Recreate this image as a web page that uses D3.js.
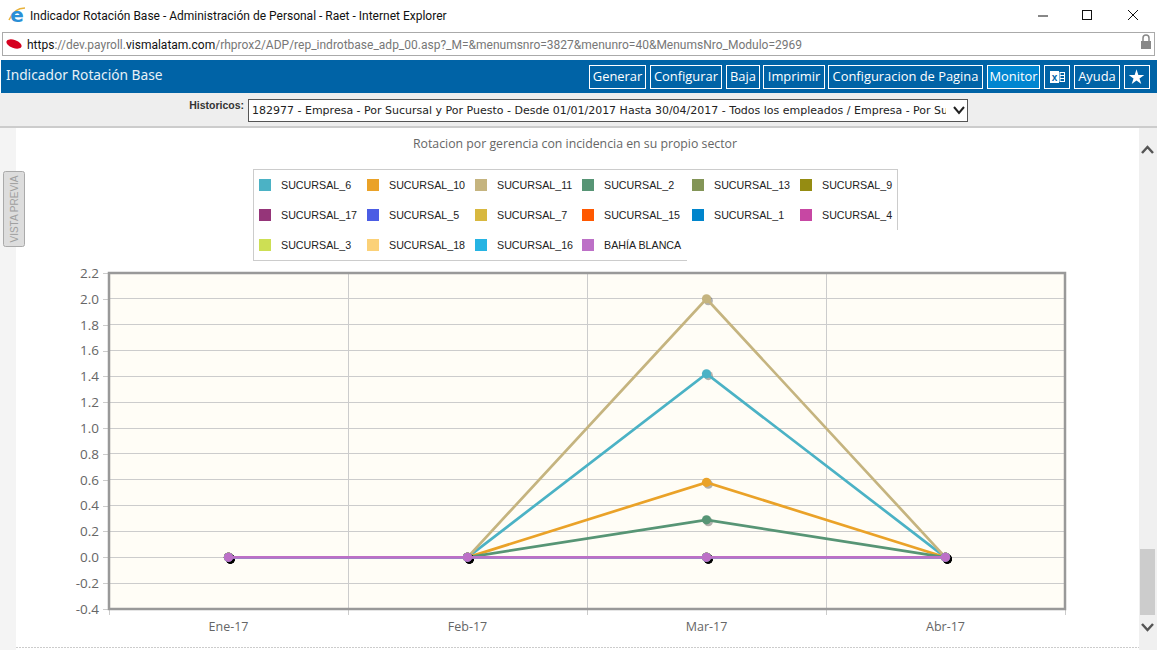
<!DOCTYPE html>
<html>
<head>
<meta charset="utf-8">
<script src="https://cdn.jsdelivr.net/npm/d3@7"></script>
<style>
body { margin: 0; background: #fff; overflow: hidden; }
svg { display: block; }
</style>
</head>
<body>
<svg id="page" width="1157" height="650"></svg>
<script>
var categories = ["Ene-17", "Feb-17", "Mar-17", "Abr-17"];
var seriesNames = ["SUCURSAL_6", "SUCURSAL_10", "SUCURSAL_11", "SUCURSAL_2", "SUCURSAL_13", "SUCURSAL_9",
    "SUCURSAL_17", "SUCURSAL_5", "SUCURSAL_7", "SUCURSAL_15", "SUCURSAL_1", "SUCURSAL_4",
    "SUCURSAL_3", "SUCURSAL_18", "SUCURSAL_16", "BAHÍA BLANCA"];
var seriesColors = ["#4bb2c5", "#eaa228", "#c5b47f", "#579575", "#839557", "#958c12",
    "#953579", "#4b5de4", "#d8b83f", "#ff5800", "#0085cc", "#c747a3",
    "#cddf54", "#fbd178", "#26b4e3", "#bd70c7"];
var seriesValues = [
    [0, 0, 1.42, 0],
    [0, 0, 0.58, 0],
    [0, 0, 2.0, 0],
    [0, 0, 0.29, 0],
    [0, 0, 0, 0],
    [0, 0, 0, 0],
    [0, 0, 0, 0],
    [0, 0, 0, 0],
    [0, 0, 0, 0],
    [0, 0, 0, 0],
    [0, 0, 0, 0],
    [0, 0, 0, 0],
    [0, 0, 0, 0],
    [0, 0, 0, 0],
    [0, 0, 0, 0],
    [0, 0, 0, 0]
];
var yTicks = [-0.4, -0.2, 0, 0.2, 0.4, 0.6, 0.8, 1.0, 1.2, 1.4, 1.6, 1.8, 2.0, 2.2];
var toolbarButtons = [
    {label: "Generar", x0: 589, x1: 645},
    {label: "Configurar", x0: 650, x1: 721},
    {label: "Baja", x0: 726, x1: 759},
    {label: "Imprimir", x0: 763, x1: 824},
    {label: "Configuracion de Pagina", x0: 828, x1: 982},
    {label: "Monitor", x0: 987, x1: 1039, on: true},
    {label: "", x0: 1044, x1: 1069},
    {label: "Ayuda", x0: 1074, x1: 1119},
    {label: "", x0: 1124, x1: 1149}
];
var legendX = [259, 367, 475, 582, 692, 800];
var legendY = [185, 215, 245];

var svg = d3.select("#page");
var uiFont = "Roboto, 'Noto Sans', sans-serif";
var chartFont = "'Open Sans', 'Noto Sans', sans-serif";
var monoFont = "'DejaVu Sans', sans-serif";

var addRect = function(x, y, w, h, fill, stroke)
{
    return svg.append("rect")
    .attr("x", x).attr("y", y).attr("width", w).attr("height", h)
    .attr("fill", fill)
    .attr("stroke", stroke || "none");
}

var addText = function(x, y, str, size, color, family, anchor)
{
    return svg.append("text")
    .attr("x", x).attr("y", y)
    .attr("font-size", size)
    .attr("font-family", family)
    .attr("fill", color)
    .attr("text-anchor", anchor || "start")
    .text(str);
}

var addLine = function(x1, y1, x2, y2, color, width)
{
    return svg.append("line")
    .attr("x1", x1).attr("y1", y1).attr("x2", x2).attr("y2", y2)
    .attr("stroke", color)
    .attr("stroke-width", width || 1);
}

var drawWindow = function()
{
    // title bar
    svg.append("path").attr("d", "M9 20 Q14 8 25 8").attr("fill", "none")
    .attr("stroke", "#e8b23a").attr("stroke-width", 1.5);
    addText(17, 22, "e", 20, "#2a8fd6", "'DejaVu Sans', sans-serif", "middle").attr("font-weight", "bold");
    addText(30, 20, "Indicador Rotación Base - Administración de Personal - Raet - Internet Explorer", 12, "#111", uiFont);
    addLine(1038, 16, 1048, 16, "#111");
    addRect(1082.5, 10.5, 9, 9, "none", "#111");
    addLine(1128, 10, 1138, 20, "#111");
    addLine(1138, 10, 1128, 20, "#111");

    // address bar
    addRect(2.5, 32.5, 1152, 23, "#fff", "#aaa");
    svg.append("ellipse").attr("cx", 14).attr("cy", 44).attr("rx", 8).attr("ry", 4)
    .attr("fill", "#d5001f").attr("transform", "rotate(20 14 44)");
    var url = addText(27, 49, null, 12, "#777", uiFont);
    url.append("tspan").attr("fill", "#111").text("https");
    url.append("tspan").text("://dev.payroll.");
    url.append("tspan").attr("fill", "#111").text("vismalatam.com");
    url.append("tspan").text("/rhprox2/ADP/rep_indrotbase_adp_00.asp?_M=&menumsnro=3827&menunro=40&MenumsNro_Modulo=2969");
    addRect(1141, 41, 10, 8, "#888");
    svg.append("path").attr("d", "M1143 41 V38 a3 3 0 0 1 6 0 V41").attr("fill", "none").attr("stroke", "#888").attr("stroke-width", 1.5);

    // blue header
    addRect(1, 60, 1156, 33, "#0063a6");
    addText(6, 80, "Indicador Rotación Base", 13.75, "#e8f1f7", "'Noto Sans', sans-serif");

    svg.append("g").selectAll("rect")
    .data(toolbarButtons)
    .enter()
    .append("rect")
    .attr("x", function(d){return d.x0 + 0.5;})
    .attr("y", 65.5)
    .attr("width", function(d){return d.x1 - d.x0;})
    .attr("height", 23)
    .attr("fill", function(d){return d.on ? "#0085d0" : "#0063a6";})
    .attr("stroke", "#fff");

    svg.append("g").selectAll("text")
    .data(toolbarButtons)
    .enter()
    .append("text")
    .attr("x", function(d){return (d.x0 + d.x1) / 2 + 0.5;})
    .attr("y", 81)
    .attr("text-anchor", "middle")
    .attr("font-size", 12.9)
    .attr("font-family", chartFont)
    .attr("fill", "#fff")
    .text(function(d){return d.label;});

    // excel and star icons
    addRect(1050, 71, 9, 12, "#fff");
    addText(1054.5, 80.5, "x", 10, "#0063a6", "'Liberation Sans', sans-serif", "middle").attr("font-weight", "bold");
    addRect(1060, 72.5, 4.5, 9, "none", "#fff");
    addLine(1060, 75.5, 1064.5, 75.5, "#fff");
    addLine(1060, 78.5, 1064.5, 78.5, "#fff");
    var star = d3.symbol().type(d3.symbolStar).size(75);
    svg.append("path").attr("d", star()).attr("fill", "#fff").attr("transform", "translate(1136.5,77.5)");

    // historicos bar
    addRect(0, 93, 1157, 33, "#eee");
    addRect(0, 126, 1157, 2, "#ccc");
    addText(244, 109, "Historicos:", 10.5, "#333", "'Liberation Sans', sans-serif", "end").attr("font-weight", "bold");
    addRect(248.5, 99.5, 719, 22, "#fff", "#555");
    svg.append("clipPath").attr("id", "selClip").append("rect")
    .attr("x", 250).attr("y", 100).attr("width", 696).attr("height", 21);
    addText(252, 114, "182977 - Empresa - Por Sucursal y Por Puesto - Desde 01/01/2017 Hasta 30/04/2017 - Todos los empleados / Empresa - Por Sucursal", 11, "#222", monoFont)
    .attr("clip-path", "url(#selClip)");
    svg.append("path").attr("d", "M954 107 L959 113 L964 107").attr("fill", "none").attr("stroke", "#222").attr("stroke-width", 2);

    // side strips and scrollbar
    addRect(0, 128, 16, 522, "#f4f4f4");
    addRect(1139, 128, 18, 522, "#f0f0f0");
    addRect(1140, 549, 15, 66, "#ccc");
    svg.append("path").attr("d", "M1142 153 L1147.5 147 L1153 153").attr("fill", "none").attr("stroke", "#555").attr("stroke-width", 2.5);
    svg.append("path").attr("d", "M1142 624 L1147.5 630 L1153 624").attr("fill", "none").attr("stroke", "#555").attr("stroke-width", 2.5);
    addLine(16, 647.5, 1139, 647.5, "#ccc").attr("stroke-dasharray", "2,1");

    // vista previa tab
    svg.append("rect").attr("x", 3.5).attr("y", 171.5).attr("width", 21).attr("height", 75).attr("rx", 2)
    .attr("fill", "#ddd").attr("stroke", "#aaa");
    addText(0, 0, "VISTA PREVIA", 10, "#a0a0a0", "'Liberation Sans', sans-serif", "middle")
    .attr("transform", "translate(18,209) rotate(-90)");
}

var drawLegend = function()
{
    addLine(253.5, 169.5, 898, 169.5, "#ccc");
    addLine(253.5, 169, 253.5, 261, "#ccc");
    addLine(897.5, 169, 897.5, 230, "#ccc");
    addLine(253, 260.5, 687, 260.5, "#ccc");

    var items = svg.append("g").selectAll("g")
    .data(seriesNames)
    .enter()
    .append("g")
    .attr("transform", function(d, i){
        return "translate(" + legendX[i % 6] + "," + legendY[Math.floor(i / 6)] + ")";
    });

    items.append("rect")
    .attr("x", 0).attr("y", -6)
    .attr("width", 12).attr("height", 12)
    .attr("fill", function(d, i){return seriesColors[i];});

    items.append("text")
    .attr("x", 22)
    .attr("y", 4)
    .attr("font-size", 10.7)
    .attr("font-family", "'Liberation Sans', sans-serif")
    .attr("fill", "#222")
    .text(function(d){return d;});
}

var drawChart = function()
{
    addText(575, 148, "Rotacion por gerencia con incidencia en su propio sector", 12.3, "#666", chartFont, "middle");

    var left = 109, right = 1065, top = 273, bottom = 609;

    var x = d3.scaleBand().domain(categories).range([left, right]);
    var y = d3.scaleLinear().domain([-0.4, 2.2]).range([bottom, top]);
    var cx = function(i){return x(categories[i]) + x.bandwidth() / 2;};

    addRect(left, top, right - left, bottom - top, "#fffdf6");

    // horizontal grid
    svg.append("g").selectAll("line")
    .data(yTicks.slice(1, -1))
    .enter()
    .append("line")
    .attr("x1", left).attr("x2", right)
    .attr("y1", function(d){return y(d);})
    .attr("y2", function(d){return y(d);})
    .attr("shape-rendering", "crispEdges")
    .attr("stroke", "#ccc");

    // vertical grid between months, ticks run below the plot
    svg.append("g").selectAll("line")
    .data(categories)
    .enter()
    .append("line")
    .attr("x1", function(d){return x(d);})
    .attr("x2", function(d){return x(d);})
    .attr("y1", top)
    .attr("y2", bottom + 6)
    .attr("shape-rendering", "crispEdges")
    .attr("stroke", "#ccc");
    addLine(right, bottom, right, bottom + 6, "#ccc").attr("shape-rendering", "crispEdges");

    var yAxis = d3.axisLeft(y)
    .tickValues(yTicks)
    .tickSize(6)
    .tickPadding(4)
    .tickFormat(d3.format(".1f"));

    var yG = svg.append("g").attr("transform", "translate(" + left + ",0)").call(yAxis);
    yG.select(".domain").remove();
    yG.selectAll("line").attr("stroke", "#ccc").attr("shape-rendering", "crispEdges");
    yG.selectAll("text").attr("font-size", 13.5).attr("font-family", chartFont).attr("fill", "#666")
    .text(function(d){return d3.format(".1f")(d).replace("−", "-");});

    var xAxis = d3.axisBottom(x).tickSize(0).tickPadding(13);
    var xG = svg.append("g").attr("transform", "translate(0," + bottom + ")").call(xAxis);
    xG.select(".domain").remove();
    xG.selectAll("text").attr("font-size", 12.5).attr("font-family", chartFont).attr("fill", "#666");

    addRect(left, top, right - left, bottom - top, "none", "#999").attr("stroke-width", 2.5);

    var line = d3.line()
    .x(function(d, i){return cx(i);})
    .y(function(d){return y(d);});

    var series = svg.append("g").selectAll("g")
    .data(seriesValues)
    .enter()
    .append("g");

    // shadows stack up where series overlap, that gives the black dots at zero
    series.selectAll(".shadow")
    .data(function(d){return d;})
    .enter()
    .append("circle")
    .attr("class", "shadow")
    .attr("cx", function(d, i){return cx(i) + 1.8;})
    .attr("cy", function(d){return y(d) + 1.8;})
    .attr("r", 4.6)
    .attr("fill", "#000")
    .attr("opacity", 0.3);

    series.append("path")
    .attr("d", function(d){return line(d);})
    .attr("fill", "none")
    .attr("stroke-width", 2.7)
    .attr("stroke", function(d, i){return seriesColors[i];});

    series.each(function(values, s){
        d3.select(this).selectAll(".dot")
        .data(values)
        .enter()
        .append("circle")
        .attr("class", "dot")
        .attr("cx", function(d, i){return cx(i);})
        .attr("cy", function(d){return y(d);})
        .attr("r", 4.6)
        .attr("fill", seriesColors[s]);
    });
}

drawWindow();
drawLegend();
drawChart();
</script>
</body>
</html>
